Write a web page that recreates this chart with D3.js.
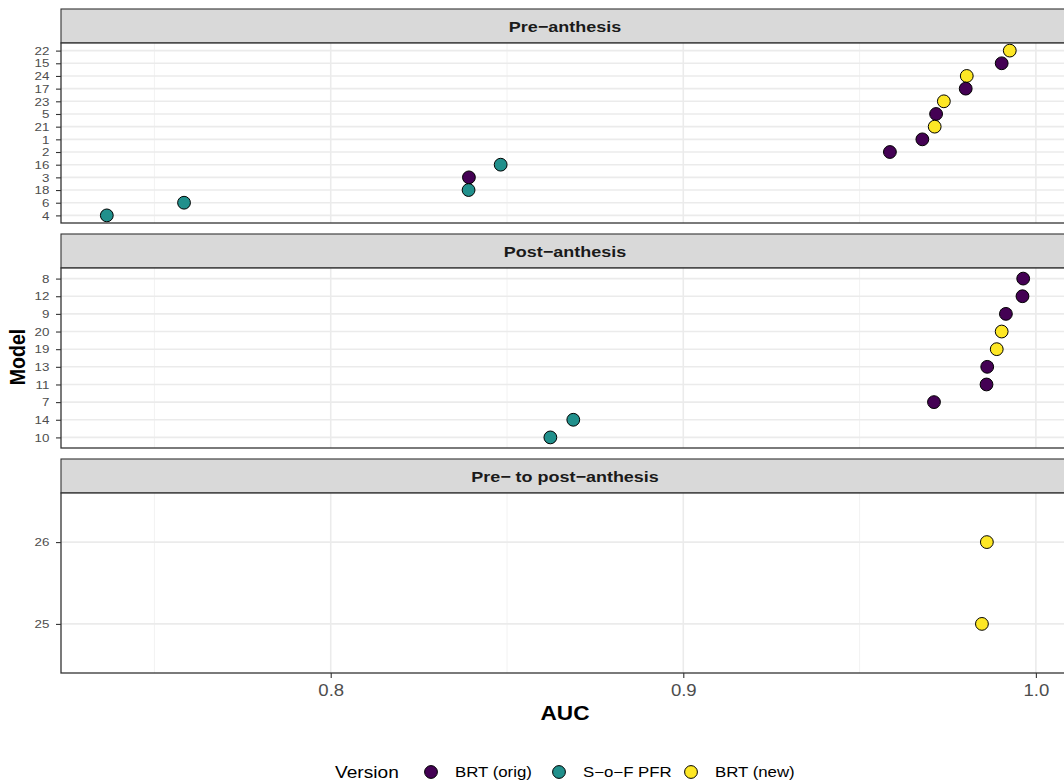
<!DOCTYPE html>
<html>
<head>
<meta charset="utf-8">
<script src="https://cdn.jsdelivr.net/npm/d3@7"></script>
<style>
  body { margin: 0; background: #fff; }
  svg { display: block; font-family: "Liberation Sans", Arial, sans-serif; }
</style>
</head>
<body>
<script>
// data
var panelNames = ["Pre\u2212anthesis", "Post\u2212anthesis", "Pre\u2212 to post\u2212anthesis"];
var versionNames = ["BRT (orig)", "S\u2212o\u2212F PFR", "BRT (new)"];
var versionColors = ["#440154", "#21908C", "#FDE725"];

// models listed top to bottom, with AUC and version index
var preModels  = ["22", "15", "24", "17", "23", "5", "21", "1", "2", "16", "3", "18", "6", "4"];
var preAuc     = [0.9926, 0.9903, 0.9804, 0.9801, 0.9739, 0.9717, 0.9713, 0.9678, 0.9586, 0.8482, 0.8392, 0.8391, 0.7584, 0.7365];
var preVersion = [2, 0, 2, 0, 2, 0, 2, 0, 0, 1, 0, 1, 1, 1];

var postModels  = ["8", "12", "9", "20", "19", "13", "11", "7", "14", "10"];
var postAuc     = [0.9964, 0.9962, 0.9915, 0.9903, 0.9889, 0.9862, 0.9860, 0.9711, 0.8688, 0.8623];
var postVersion = [0, 0, 0, 2, 2, 0, 0, 0, 1, 1];

var ppModels  = ["26", "25"];
var ppAuc     = [0.9861, 0.9847];
var ppVersion = [2, 2];

var xTicks = [0.8, 0.9, 1.0];
var xMinor = [0.75, 0.85, 0.95];

var panelData = [
  {models: preModels, auc: preAuc, version: preVersion},
  {models: postModels, auc: postAuc, version: postVersion},
  {models: ppModels, auc: ppAuc, version: ppVersion}
];

var width = 1064, height = 783;
var left = 61, right = 1069;
var stripTops = [9, 234, 459];
var stripH = 34, panelH = 180;
var sx = 1.16; // the reference text is a bit wider than plain Arial

var svg = d3.select("body").append("svg")
  .attr("width", width)
  .attr("height", height);

// put a text at (px,py) stretched horizontally
function stext(sel, px, py) {
  return sel.attr("transform", "translate(" + px + "," + py + ") scale(" + sx + ",1)");
}

// x range from data with 5% expansion like ggplot
var allAuc = preAuc.concat(postAuc, ppAuc);
var ext = d3.extent(allAuc);
var pad = (ext[1] - ext[0]) * 0.05;
var x = d3.scaleLinear()
  .domain([ext[0] - pad, ext[1] + pad])
  .range([left, right]);

panelData.forEach(function(p, i) {
  var top = stripTops[i] + stripH;
  var g = svg.append("g");

  var y = d3.scalePoint()
    .domain(p.models)
    .range([top, top + panelH])
    .padding(0.6);

  // strip
  g.append("rect")
    .attr("x", left).attr("y", stripTops[i])
    .attr("width", right - left).attr("height", stripH)
    .attr("fill", "#D9D9D9").attr("stroke", "#333333").attr("stroke-width", 1.1);
  stext(g.append("text"), (left + right) / 2, stripTops[i] + stripH / 2 + 6)
    .attr("text-anchor", "middle")
    .attr("font-size", 15.5).attr("font-weight", "bold").attr("fill", "#1A1A1A")
    .text(panelNames[i]);

  // panel background
  g.append("rect")
    .attr("x", left).attr("y", top).attr("width", right - left).attr("height", panelH)
    .attr("fill", "#fff");

  // grid
  g.selectAll(".minor").data(xMinor).enter().append("line")
    .attr("x1", function(d){ return x(d); }).attr("x2", function(d){ return x(d); })
    .attr("y1", top).attr("y2", top + panelH)
    .attr("stroke", "#F2F2F2").attr("stroke-width", 1);
  g.selectAll(".major").data(xTicks).enter().append("line")
    .attr("x1", function(d){ return x(d); }).attr("x2", function(d){ return x(d); })
    .attr("y1", top).attr("y2", top + panelH)
    .attr("stroke", "#EBEBEB").attr("stroke-width", 1.6);
  g.selectAll(".hgrid").data(p.models).enter().append("line")
    .attr("x1", left).attr("x2", right)
    .attr("y1", function(d){ return y(d); }).attr("y2", function(d){ return y(d); })
    .attr("stroke", "#EBEBEB").attr("stroke-width", 1.6);

  // y axis
  var ya = g.append("g")
    .attr("transform", "translate(" + left + ",0)")
    .call(d3.axisLeft(y).tickSize(5).tickPadding(5));
  ya.select(".domain").remove();
  ya.selectAll(".tick line").attr("stroke", "#333333").attr("stroke-width", 1.1);
  ya.selectAll(".tick text")
    .attr("transform", "scale(" + sx + ",1)")
    .attr("font-size", 11.5).attr("fill", "#4D4D4D")
    .attr("font-family", "Liberation Sans, Arial, sans-serif");

  // points
  g.selectAll("circle").data(p.models).enter().append("circle")
    .attr("cx", function(d, j){ return x(p.auc[j]); })
    .attr("cy", function(d){ return y(d); })
    .attr("r", 6.4)
    .attr("fill", function(d, j){ return versionColors[p.version[j]]; })
    .attr("stroke", "#000").attr("stroke-width", 1);

  // border
  g.append("rect")
    .attr("x", left).attr("y", top).attr("width", right - left).attr("height", panelH)
    .attr("fill", "none").attr("stroke", "#333333").attr("stroke-width", 1.3);
});

// x axis under last panel
var bottom = stripTops[2] + stripH + panelH;
var xa = svg.append("g")
  .attr("transform", "translate(0," + bottom + ")")
  .call(d3.axisBottom(x).tickValues(xTicks).tickFormat(d3.format(".1f")).tickSize(5).tickPadding(7));
xa.select(".domain").remove();
xa.selectAll(".tick line").attr("stroke", "#333333").attr("stroke-width", 1.1);
xa.selectAll(".tick text")
  .attr("transform", "scale(" + sx + ",1)")
  .attr("font-size", 16).attr("fill", "#4D4D4D")
  .attr("font-family", "Liberation Sans, Arial, sans-serif");

// axis titles
stext(svg.append("text"), (left + right) / 2, 720)
  .attr("text-anchor", "middle")
  .attr("font-size", 19.5).attr("font-weight", "bold")
  .text("AUC");
svg.append("text")
  .attr("transform", "translate(25," + ((stripTops[0] + bottom) / 2 + 16) + ") rotate(-90) scale(1,1.16)")
  .attr("text-anchor", "middle")
  .attr("font-size", 19.5).attr("font-weight", "bold")
  .text("Model");

// legend
var legY = 772;
stext(svg.append("text"), 335, legY + 6)
  .attr("font-size", 16.5).attr("fill", "#000")
  .text("Version");
var legX = [431, 559, 691];
var lg = svg.selectAll(".leg").data(versionNames).enter().append("g")
  .attr("transform", function(d, i){ return "translate(" + legX[i] + "," + legY + ")"; });
lg.append("circle")
  .attr("r", 6.4)
  .attr("fill", function(d, i){ return versionColors[i]; })
  .attr("stroke", "#000").attr("stroke-width", 1);
lg.append("text")
  .attr("transform", "translate(24,5) scale(" + sx + ",1)")
  .attr("font-size", 14.5).attr("fill", "#000")
  .text(function(d){ return d; });
</script>
</body>
</html>
